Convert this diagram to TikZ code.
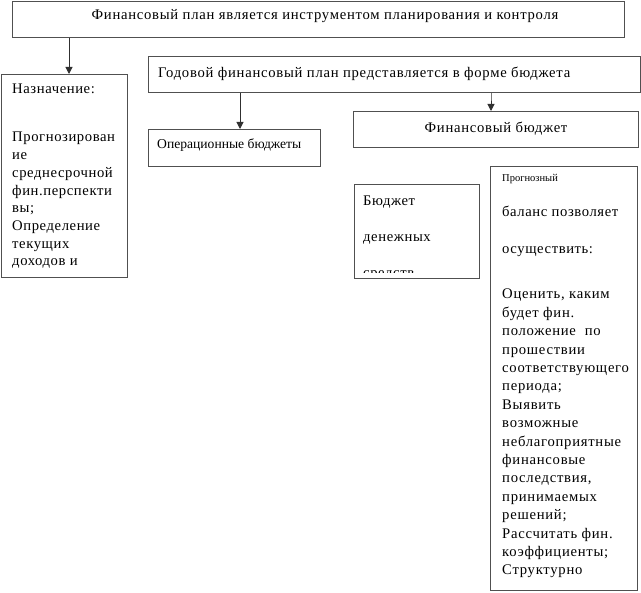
\documentclass[tikz,border=0pt]{standalone}
\usepackage{fontspec}
\setmainfont{Liberation Serif}[LetterSpace=4]
\newfontfamily\tightfont{Liberation Serif}
\newfontfamily\widefont{Liberation Serif}[LetterSpace=5]
\usetikzlibrary{arrows.meta}
\definecolor{linec}{HTML}{303030}
\definecolor{boxc}{HTML}{505050}
\newcommand{\linesblock}[1]{\begin{tabular}[t]{@{}l@{}}#1\end{tabular}}
\begin{document}
\begin{tikzpicture}[x=1pt,y=-1pt,
  box/.style={draw=boxc, line width=0.9pt, rectangle, anchor=north west, inner sep=0pt},
  txt/.style={anchor=base west, inner sep=0pt, font=\fontsize{14.67}{17.7}\selectfont},
  smalltxt/.style={anchor=base west, inner sep=0pt, font=\tightfont\fontsize{13.6}{15}\selectfont},
  tinytxt/.style={anchor=base west, inner sep=0pt, font=\tightfont\fontsize{10.5}{12}\selectfont},
  arr/.style={draw=linec, line width=1pt, -{Triangle[length=7pt,width=7pt]}}]
\useasboundingbox (0,0) rectangle (641,593);
% boxes
\node[box, minimum width=612pt, minimum height=36pt] (top) at (12,1) {};
\node[box, minimum width=126pt, minimum height=203pt] (nazn) at (0.5,74) {};
\node[box, minimum width=492pt, minimum height=36pt] (god) at (148,56) {};
\node[box, minimum width=172pt, minimum height=37pt] (oper) at (148,129) {};
\node[box, minimum width=285pt, minimum height=36pt] (fin) at (353,111) {};
\node[box, minimum width=125pt, minimum height=94pt] (cash) at (354,184) {};
\node[box, minimum width=147pt, minimum height=424pt] (prog) at (490,166) {};
% arrows
\draw[arr] (top.south -| 69,0) -- (nazn.north -| 69,0);
\draw[arr] (god.south -| 240,0) -- (oper.north -| 240,0);
\draw[arr] (god.south -| 491,0) -- ++(0,5) -- (fin.north -| 491,0);
% texts
\node[txt, anchor=base, font=\widefont\fontsize{14.67}{17.7}\selectfont] (ttop) at (325,20) {Финансовый план является инструментом планирования и контроля};
\node[txt] (tn1) at (12,94) {Назначение:};
\node[txt] (tn2) at (12,142) {\linesblock{Прогнозирован\\ие\\среднесрочной\\фин.перспекти\\вы;\\Определение\\текущих\\доходов и}};
\node[txt, font=\widefont\fontsize{14.67}{17.7}\selectfont] (tgod) at (158,78) {Годовой финансовый план представляется в форме бюджета};
\node[smalltxt] (toper) at (157,149) {Операционные бюджеты};
\node[txt, anchor=base, font=\widefont\fontsize{14.67}{17.7}\selectfont] (tfin) at (496,133) {Финансовый бюджет};
\begin{scope}
\clip (354,184) rectangle (479,273);
\node[txt] (tc1) at (363,206) {Бюджет};
\node[txt] (tc2) at (363,242) {денежных};
\node[txt] (tc3) at (363,278) {средств};
\end{scope}
\node[tinytxt] (tp1) at (502,182) {Прогнозный};
\node[txt] (tp2) at (502,217) {баланс позволяет};
\node[txt] (tp3) at (502,254) {осуществить:};
\node[txt, font=\widefont\fontsize{14.67}{18.4}\selectfont] (tp4) at (502,299) {\linesblock{Оценить, каким\\будет фин.\\положение~ по\\прошествии\\соответствующего\\периода;\\Выявить\\возможные\\неблагоприятные\\финансовые\\последствия,\\принимаемых\\решений;\\Рассчитать фин.\\коэффициенты;\\Структурно}};
\end{tikzpicture}
\end{document}
